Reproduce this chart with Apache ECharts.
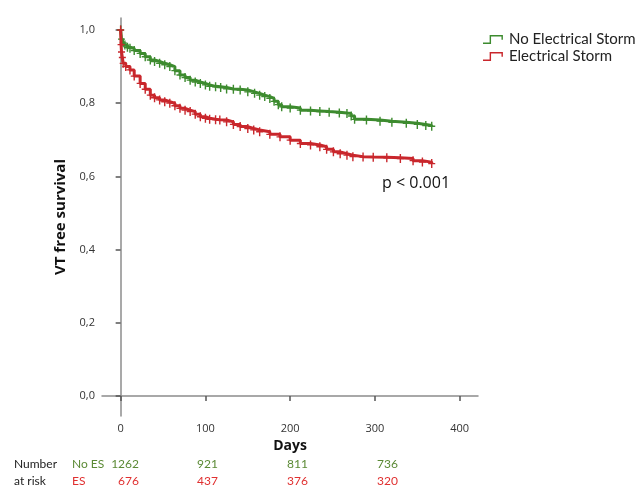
<!DOCTYPE html>
<html>
<head>
<meta charset="utf-8">
<script src="https://cdn.jsdelivr.net/npm/echarts@6/dist/echarts.min.js"></script>
<style>
    html, body { margin: 0; padding: 0; background: #fff; }
    #main { width: 639px; height: 488px; }
</style>
</head>
<body>
<div id="main"></div>
<script>
// 生存曲线数据 (天数, 生存率)
const noEsDays = [0, 1, 3, 5, 8, 11, 16, 23, 29, 35, 40, 46, 52, 58, 64, 70, 76, 82, 88, 94, 100, 105, 112, 118, 125, 133, 141, 150, 158, 164, 170, 176, 181, 186, 190, 200, 212, 224, 235, 246, 258, 267, 272, 276, 290, 306, 320, 337, 350, 360, 367];
const noEsSurv = [1.0, 0.975, 0.965, 0.959, 0.953, 0.950, 0.944, 0.936, 0.927, 0.918, 0.914, 0.909, 0.905, 0.900, 0.889, 0.877, 0.870, 0.863, 0.858, 0.854, 0.850, 0.846, 0.845, 0.843, 0.839, 0.838, 0.836, 0.831, 0.827, 0.822, 0.818, 0.813, 0.805, 0.796, 0.790, 0.787, 0.781, 0.779, 0.777, 0.775, 0.773, 0.772, 0.765, 0.756, 0.754, 0.751, 0.748, 0.745, 0.742, 0.739, 0.737];

const esDays = [0, 0.5, 1, 2, 3, 6, 11, 16, 23, 29, 35, 40, 46, 52, 58, 64, 70, 76, 82, 88, 94, 100, 105, 112, 117, 125, 133, 141, 150, 157, 164, 176, 188, 200, 212, 224, 235, 243, 251, 259, 267, 274, 286, 298, 314, 330, 345, 356, 367];
const esSurv = [1.0, 0.96, 0.94, 0.925, 0.909, 0.900, 0.891, 0.874, 0.854, 0.838, 0.822, 0.815, 0.809, 0.804, 0.800, 0.793, 0.786, 0.781, 0.777, 0.770, 0.763, 0.759, 0.756, 0.755, 0.754, 0.749, 0.742, 0.736, 0.731, 0.727, 0.722, 0.715, 0.708, 0.699, 0.690, 0.686, 0.681, 0.674, 0.667, 0.662, 0.658, 0.654, 0.653, 0.652, 0.651, 0.649, 0.643, 0.639, 0.635];

const xTicks = [0, 100, 200, 300, 400];
const yTicks = [0, 0.2, 0.4, 0.6, 0.8, 1.0];

// 风险人数
const atRiskNoES = [1262, 921, 811, 736];
const atRiskES = [676, 437, 376, 320];

const GREEN = '#3d8b2f';
const RED = '#c9272c';
const FONT = 'Lato';
const FONT2 = 'Open Sans';

const plusSymbol = 'path://M-0.6,-4 L0.6,-4 L0.6,-0.6 L3,-0.6 L3,0.6 L0.6,0.6 L0.6,4 L-0.6,4 L-0.6,0.6 L-3,0.6 L-3,-0.6 L-0.6,-0.6Z';
const stepIcon = 'path://M0,8 L7,8 L7,0 L21,0 L21,5 L19.5,5 L19.5,1.5 L8.5,1.5 L8.5,9.5 L0,9.5Z';

function zip(xs, ys) {
    return xs.map((x, i) => [x, ys[i]]);
}

const chart = echarts.init(document.getElementById('main'));

// 风险人数表格
const riskX = [139, 218, 308, 398];
const graphics = [
    { type: 'text', left: 14, top: 458, style: { text: 'Number', font: '12px ' + FONT, fill: '#222' } },
    { type: 'text', left: 14, top: 475, style: { text: 'at risk', font: '12px ' + FONT, fill: '#222' } },
    { type: 'text', left: 72, top: 458, style: { text: 'No ES', font: '12px ' + FONT, fill: '#5b8a35' } },
    { type: 'text', left: 72, top: 475, style: { text: 'ES', font: '12px ' + FONT, fill: '#e03030' } },
    { type: 'text', left: 382, top: 175, style: { text: 'p < 0.001', font: '16px "' + FONT2 + '"', fill: '#111' } }
];
atRiskNoES.forEach((v, i) => {
    graphics.push({ type: 'text', x: riskX[i], y: 458, style: { text: String(v), font: '12px ' + FONT, fill: '#5b8a35', align: 'right', verticalAlign: 'top' } });
});
atRiskES.forEach((v, i) => {
    graphics.push({ type: 'text', x: riskX[i], y: 475, style: { text: String(v), font: '12px ' + FONT, fill: '#e03030', align: 'right', verticalAlign: 'top' } });
});

const axisLineStyle = { color: '#8c8c8c', width: 1.5 };

const option = {
    animation: false,
    textStyle: { fontFamily: FONT },
    grid: { left: 102, right: 161, top: 18, bottom: 72, containLabel: false },
    legend: {
        orient: 'vertical',
        left: 478,
        top: 27,
        itemWidth: 22,
        itemHeight: 9,
        itemGap: 2,
        textStyle: { fontSize: 15, color: '#222', fontFamily: FONT },
        data: [
            { name: 'No Electrical Storm', icon: stepIcon, itemStyle: { color: GREEN } },
            { name: 'Electrical Storm', icon: stepIcon, itemStyle: { color: RED } }
        ]
    },
    xAxis: {
        type: 'value',
        min: -22,
        max: 421.6,
        name: 'Days',
        nameLocation: 'middle',
        nameGap: 22,
        nameTextStyle: { fontSize: 14, fontWeight: 'bold', color: '#111', fontFamily: FONT2 },
        splitLine: { show: false },
        axisLine: { show: true, lineStyle: axisLineStyle },
        axisTick: { show: true, length: 5, customValues: xTicks, lineStyle: { color: '#555', width: 1.5 } },
        axisLabel: { customValues: xTicks, fontSize: 11, color: '#333', margin: 7, fontFamily: FONT2 }
    },
    yAxis: {
        type: 'value',
        min: -0.0547,
        max: 1.0328,
        name: 'VT free survival',
        nameLocation: 'middle',
        nameGap: 31,
        nameRotate: 90,
        nameTextStyle: { fontSize: 15, fontWeight: 'bold', color: '#111', fontFamily: FONT2 },
        splitLine: { show: false },
        axisLine: { show: true, lineStyle: axisLineStyle },
        axisTick: { show: true, length: 5, customValues: yTicks, lineStyle: { color: '#555', width: 1.5 } },
        axisLabel: {
            customValues: yTicks,
            fontSize: 11,
            color: '#333',
            margin: 7,
            fontFamily: FONT2,
            formatter: v => v.toFixed(1).replace('.', ',')
        }
    },
    series: [
        {
            name: 'No Electrical Storm',
            type: 'line',
            step: 'end',
            data: zip(noEsDays, noEsSurv),
            symbol: plusSymbol,
            symbolSize: [7, 9],
            showSymbol: true,
            lineStyle: { color: GREEN, width: 3 },
            itemStyle: { color: GREEN },
            z: 3
        },
        {
            name: 'Electrical Storm',
            type: 'line',
            step: 'end',
            data: zip(esDays, esSurv),
            symbol: plusSymbol,
            symbolSize: [7, 9],
            showSymbol: true,
            lineStyle: { color: RED, width: 3 },
            itemStyle: { color: RED },
            z: 4
        }
    ],
    graphic: graphics
};

chart.setOption(option);
</script>
</body>
</html>
